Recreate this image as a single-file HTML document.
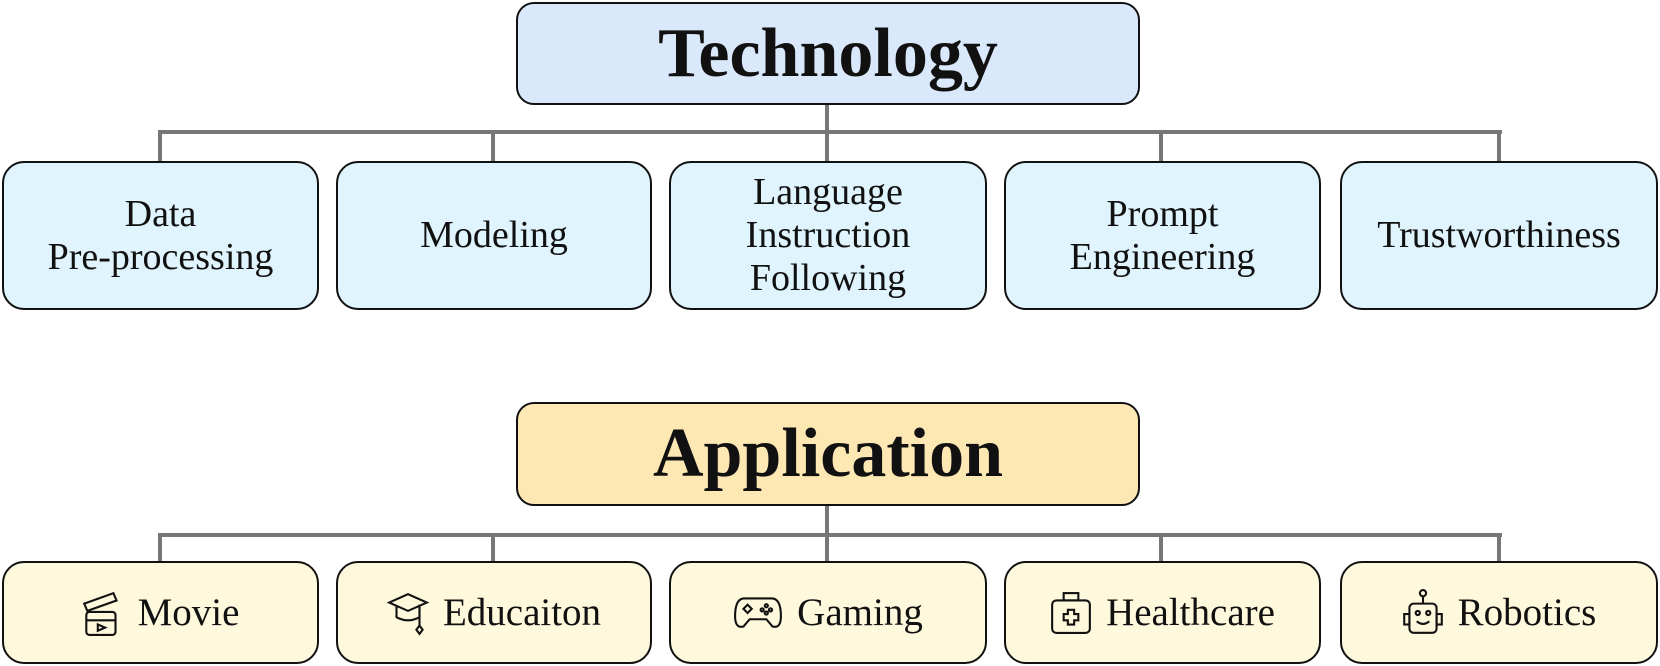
<!DOCTYPE html>
<html><head><style>
body{margin:0;width:1660px;height:666px;background:#fff;position:relative;overflow:hidden;font-family:"Liberation Serif",serif;}
.b{position:absolute;box-sizing:border-box;border:2px solid #111;border-radius:22px;display:flex;align-items:center;justify-content:center;text-align:center;color:#111;}
.t{font-weight:bold;font-size:70px;border-radius:18px;}
.c{font-size:38px;line-height:43px;background:#dff4fd;}
.a{font-size:39px;background:#fef8dc;gap:14px;}
.l{position:absolute;background:#777;}
svg{display:block}
</style></head><body>
<div class="b t" style="left:516px;top:2px;width:624px;height:103px;background:#dae8fc;">Technology</div>
<div class="l" style="left:158px;top:130px;width:1344px;height:4px"></div>
<div class="l" style="left:825px;top:105px;width:4px;height:27px"></div>
<div class="l" style="left:158px;top:130px;width:4px;height:32px"></div>
<div class="l" style="left:491px;top:130px;width:4px;height:32px"></div>
<div class="l" style="left:825px;top:130px;width:4px;height:32px"></div>
<div class="l" style="left:1159px;top:130px;width:4px;height:32px"></div>
<div class="l" style="left:1497px;top:130px;width:4px;height:32px"></div>
<div class="b c" style="left:2px;top:161px;width:317px;height:149px">Data<br>Pre-processing</div>
<div class="b c" style="left:336px;top:161px;width:316px;height:149px">Modeling</div>
<div class="b c" style="left:669px;top:161px;width:318px;height:149px">Language<br>Instruction<br>Following</div>
<div class="b c" style="left:1004px;top:161px;width:317px;height:149px">Prompt<br>Engineering</div>
<div class="b c" style="left:1340px;top:161px;width:318px;height:149px">Trustworthiness</div>

<div class="b t" style="left:516px;top:402px;width:624px;height:104px;background:#fde8b4;">Application</div>
<div class="l" style="left:158px;top:533px;width:1344px;height:4px"></div>
<div class="l" style="left:825px;top:506px;width:4px;height:29px"></div>
<div class="l" style="left:158px;top:533px;width:4px;height:29px"></div>
<div class="l" style="left:491px;top:533px;width:4px;height:29px"></div>
<div class="l" style="left:825px;top:533px;width:4px;height:29px"></div>
<div class="l" style="left:1159px;top:533px;width:4px;height:29px"></div>
<div class="l" style="left:1497px;top:533px;width:4px;height:29px"></div>

<div class="b a" style="left:2px;top:561px;width:317px;height:103px">
<svg width="42" height="48" viewBox="0 0 40 46" fill="none" stroke="#111" stroke-width="2"><path d="M2 14 L30 4 L33 11 L5 21Z"/><rect x="4" y="22" width="28" height="22" rx="3"/><line x1="4" y1="30" x2="32" y2="30"/><path d="M15 34 L22 37 L15 40Z"/></svg>Movie</div>
<div class="b a" style="left:336px;top:561px;width:316px;height:103px">
<svg width="42" height="46" viewBox="0 0 40 44" fill="none" stroke="#111" stroke-width="2"><path d="M2 12 L20 4 L38 12 L20 20Z"/><path d="M9 15 V26 Q20 32 31 26 V15"/><line x1="31" y1="14" x2="31" y2="34"/><path d="M31 34 l3 4 -3 4 -3 -4z"/></svg>Educaiton</div>
<div class="b a" style="left:669px;top:561px;width:318px;height:103px">
<svg width="50" height="36" viewBox="0 0 48 34" fill="none" stroke="#111" stroke-width="2"><path d="M10 3 H38 Q46 4 46 20 Q46 32 38 30 L32 23 H16 L10 30 Q2 32 2 20 Q2 4 10 3Z"/><path d="M14 9 l4 4 -4 4 -4 -4z"/><circle cx="32" cy="10" r="1.5"/><circle cx="36" cy="14" r="1.5"/><circle cx="28" cy="14" r="1.5"/><circle cx="32" cy="17" r="1.5"/></svg>Gaming</div>
<div class="b a" style="left:1004px;top:561px;width:317px;height:103px">
<svg width="42" height="44" viewBox="0 0 40 42" fill="none" stroke="#111" stroke-width="2"><rect x="2" y="9" width="36" height="31" rx="4"/><rect x="13" y="2" width="14" height="7"/><path d="M17 18 h6 v4 h4 v6 h-4 v4 h-6 v-4 h-4 v-6 h4z"/></svg>Healthcare</div>
<div class="b a" style="left:1340px;top:561px;width:318px;height:103px">
<svg width="42" height="48" viewBox="0 0 40 46" fill="none" stroke="#111" stroke-width="2"><circle cx="20" cy="4" r="3"/><line x1="20" y1="7" x2="20" y2="14"/><rect x="7" y="14" width="26" height="28" rx="4"/><rect x="2" y="24" width="5" height="10"/><rect x="33" y="24" width="5" height="10"/><circle cx="15" cy="23" r="2"/><circle cx="25" cy="23" r="2"/><path d="M14 31 Q20 36 26 31"/></svg>Robotics</div>
</body></html>
